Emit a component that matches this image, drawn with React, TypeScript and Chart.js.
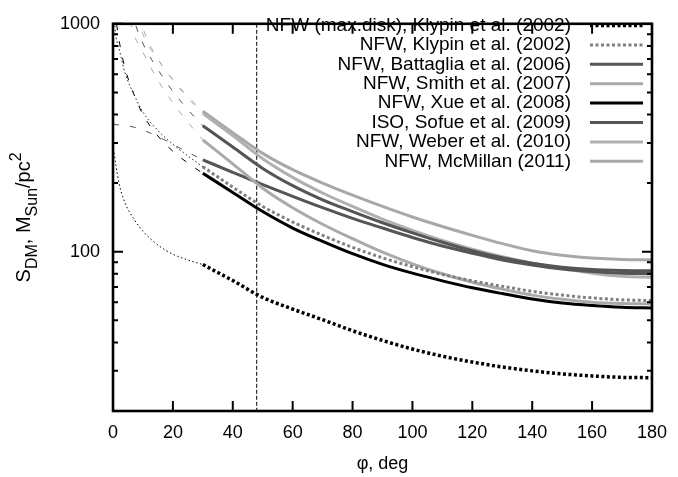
import React, { useEffect, useRef } from "react";
import { Chart, registerables } from "chart.js";
Chart.register(...registerables);

// angle grids
const phiThick = [30, 40, 50, 60, 70, 80, 90, 100, 110, 120, 130, 140, 150, 160, 170, 180];
const phiThin = [0, 1, 2, 4, 7, 10, 15, 20, 25, 30];

// thick parts (30..180 deg)
const maxDiskThick = [87.8, 74.7, 63, 56, 50.3, 45, 40.8, 37.4, 34.8, 32.8, 31.2, 30, 29.1, 28.5, 28.1, 28];
const klypinThick = [236, 192, 158, 135, 118, 104.5, 94, 86, 79.5, 74.5, 70.5, 67, 64.5, 62.7, 61.5, 61];
const battagliaThick = [357, 288, 232, 195, 169, 150, 134, 121, 110, 101, 94, 89, 85.5, 83.5, 82.7, 82.5];
const smithThick = [309, 243, 190, 156, 132, 114, 99.5, 88.5, 80, 73.5, 68.5, 64.5, 61.8, 60, 59.2, 59];
const xueThick = [221, 182, 150, 127, 111, 98, 88, 80.5, 74.5, 69.5, 65.5, 62, 59.5, 58, 57, 56.6];
const sofueThick = [253, 223, 197, 175, 156, 140, 127, 115.5, 106, 98.5, 92, 87.5, 84, 81.8, 80.5, 80];
const weberThick = [405, 323, 256, 212, 181, 158, 139, 124, 112, 102.5, 95, 89, 84.5, 80.5, 78, 77.3];
const mcmillanThick = [413, 333, 270, 229, 200, 177, 158, 142, 129, 118, 108.5, 101, 96.5, 93.8, 92.4, 92];

// thin parts (0..30 deg)
const maxDiskThin = [295, 238, 200, 164, 139, 123, 107, 97.5, 92, 87.8];
const klypinThin = [1200, 880, 780, 610, 490, 410, 340, 296, 263, 236];
const battagliaThin = [4500, 3200, 2400, 1650, 1050, 820, 630, 505, 420, 357];
const smithThin = [4000, 2800, 2100, 1300, 900, 750, 565, 450, 370, 309];
const xueThin = [1400, 1050, 850, 640, 490, 400, 322, 276, 245, 221];
const sofueThin = [362, 361, 360, 358, 352, 342, 320, 296, 273, 253];
const weberThin = [5000, 3600, 2800, 1900, 1250, 900, 700, 565, 472, 405];
const mcmillanThin = [6000, 4200, 3200, 2200, 1400, 960, 700, 570, 480, 413];

const seriesLabels = [
  "NFW (max.disk), Klypin et al. (2002)",
  "NFW, Klypin et al. (2002)",
  "NFW, Battaglia et al. (2006)",
  "NFW, Smith et al. (2007)",
  "NFW, Xue et al. (2008)",
  "ISO, Sofue et al. (2009)",
  "NFW, Weber et al. (2010)",
  "NFW, McMillan (2011)",
];

const xTickValues = [0, 20, 40, 60, 80, 100, 120, 140, 160, 180];
const yTickValues = [20, 30, 40, 50, 60, 70, 80, 90, 100, 200, 300, 400, 500, 600, 700, 800, 900, 1000];
const yLabelled = [100, 1000];
const markerPhi = 48;

const FONT = "'Liberation Sans', Arial, sans-serif";

type Style = { color: string; thinColor: string; dash: number[]; thinDash: number[]; width: number };
const styles: Style[] = [
  { color: "#000000", thinColor: "#000000", dash: [3, 2.5], thinDash: [1.5, 2.5], width: 3.5 },
  { color: "#808080", thinColor: "#222222", dash: [3, 2.5], thinDash: [1.5, 2.5], width: 3 },
  { color: "#555555", thinColor: "#555555", dash: [], thinDash: [6, 11], width: 3 },
  { color: "#aaaaaa", thinColor: "#aaaaaa", dash: [], thinDash: [6, 11], width: 3 },
  { color: "#000000", thinColor: "#000000", dash: [], thinDash: [6, 11], width: 3 },
  { color: "#555555", thinColor: "#555555", dash: [], thinDash: [6, 11], width: 3 },
  { color: "#b0b0b0", thinColor: "#b0b0b0", dash: [], thinDash: [6, 11], width: 3 },
  { color: "#a8a8a8", thinColor: "#a8a8a8", dash: [], thinDash: [6, 11], width: 3 },
];

const thickSeries = [maxDiskThick, klypinThick, battagliaThick, smithThick, xueThick, sofueThick, weberThick, mcmillanThick];
const thinSeries = [maxDiskThin, klypinThin, battagliaThin, smithThin, xueThin, sofueThin, weberThin, mcmillanThin];

const decorPlugin = {
  id: "decor",
  afterDraw(chart: any) {
    const ctx = chart.ctx as CanvasRenderingContext2D;
    const { left, right, top, bottom } = chart.chartArea;
    const xs = chart.scales.x;
    const ys = chart.scales.y;
    ctx.save();
    // ticks
    ctx.strokeStyle = "#000";
    ctx.lineWidth = 2;
    ctx.setLineDash([]);
    ctx.beginPath();
    for (const v of yTickValues) {
      const y = ys.getPixelForValue(v);
      const len = yLabelled.includes(v) ? 10 : 5;
      ctx.moveTo(left, y);
      ctx.lineTo(left + len, y);
      ctx.moveTo(right, y);
      ctx.lineTo(right - len, y);
    }
    for (const v of xTickValues) {
      const x = xs.getPixelForValue(v);
      ctx.moveTo(x, bottom);
      ctx.lineTo(x, bottom - 10);
      ctx.moveTo(x, top);
      ctx.lineTo(x, top + 10);
    }
    ctx.stroke();
    // border
    ctx.lineWidth = 2.6;
    ctx.strokeRect(left, top, right - left, bottom - top);

    // legend
    ctx.font = `19px ${FONT}`;
    ctx.fillStyle = "#000";
    ctx.textAlign = "right";
    ctx.textBaseline = "middle";
    seriesLabels.forEach((lab, i) => {
      const y = 25.5 + i * 19.4;
      ctx.fillText(lab, 571, y);
      const st = styles[i];
      ctx.beginPath();
      ctx.strokeStyle = st.color;
      ctx.lineWidth = st.width;
      ctx.setLineDash(st.dash);
      ctx.moveTo(590, y);
      ctx.lineTo(643, y);
      ctx.stroke();
    });
    ctx.setLineDash([]);

    // x title
    ctx.fillStyle = "#000";
    ctx.textAlign = "center";
    ctx.textBaseline = "middle";
    ctx.font = `18px ${FONT}`;
    ctx.fillText("\u03c6, deg", (left + right) / 2, 464);

    // y title with sub/superscripts
    const parts = [
      { t: "S", k: "n" },
      { t: "DM", k: "sub" },
      { t: ", M", k: "n" },
      { t: "Sun", k: "sub" },
      { t: "/pc", k: "n" },
      { t: "2", k: "sup" },
    ];
    const fontFor = (k: string) => (k === "n" ? `20px ${FONT}` : `16px ${FONT}`);
    let total = 0;
    for (const p of parts) {
      ctx.font = fontFor(p.k);
      total += ctx.measureText(p.t).width;
    }
    ctx.translate(30, (top + bottom) / 2);
    ctx.rotate(-Math.PI / 2);
    ctx.textAlign = "left";
    ctx.textBaseline = "alphabetic";
    let cx = -total / 2;
    for (const p of parts) {
      ctx.font = fontFor(p.k);
      const dy = p.k === "sub" ? 7 : p.k === "sup" ? -9 : 0;
      ctx.fillText(p.t, cx, dy);
      cx += ctx.measureText(p.t).width;
    }
    ctx.restore();
  },
};

export default function App() {
  const ref = useRef<HTMLCanvasElement>(null);
  useEffect(() => {
    if (!ref.current) return;
    const datasets: any[] = [];
    styles.forEach((st, i) => {
      datasets.push({
        label: seriesLabels[i] + " (extrapolated)",
        data: phiThin.map((p, j) => ({ x: p, y: thinSeries[i][j] })),
        borderColor: st.thinColor,
        borderWidth: 1,
        borderDash: st.thinDash,
        cubicInterpolationMode: "monotone",
        pointRadius: 0,
        fill: false,
      });
    });
    styles.forEach((st, i) => {
      datasets.push({
        label: seriesLabels[i],
        data: phiThick.map((p, j) => ({ x: p, y: thickSeries[i][j] })),
        borderColor: st.color,
        borderWidth: st.width,
        borderDash: st.dash,
        cubicInterpolationMode: "monotone",
        pointRadius: 0,
        fill: false,
      });
    });
    datasets.push({
      label: "marker",
      data: [
        { x: markerPhi, y: 1000 },
        { x: markerPhi, y: 20 },
      ],
      borderColor: "#000",
      borderWidth: 1,
      borderDash: [4, 2],
      pointRadius: 0,
      fill: false,
    });

    const chart = new Chart(ref.current, {
      type: "line",
      data: { datasets },
      options: {
        responsive: false,
        animation: false,
        layout: { padding: { top: 7, right: 20, left: 0, bottom: 0 } },
        plugins: { legend: { display: false }, tooltip: { enabled: false }, title: { display: false } },
        elements: { point: { radius: 0 } },
        scales: {
          x: {
            type: "linear",
            min: 0,
            max: 180,
            grid: { display: false, drawTicks: false },
            border: { display: false },
            afterBuildTicks: (s: any) => {
              s.ticks = xTickValues.map((v) => ({ value: v }));
            },
            ticks: {
              color: "#000",
              font: { family: FONT, size: 18 },
              padding: 11,
              maxRotation: 0,
              autoSkip: false,
              callback: (v: any) => String(v),
            },
            afterFit: (s: any) => {
              s.height = 66;
            },
          },
          y: {
            type: "logarithmic",
            min: 20,
            max: 1000,
            grid: { display: false, drawTicks: false },
            border: { display: false },
            afterBuildTicks: (s: any) => {
              s.ticks = yTickValues.map((v) => ({ value: v }));
            },
            ticks: {
              color: "#000",
              font: { family: FONT, size: 18 },
              padding: 13,
              autoSkip: false,
              callback: (v: any) => (yLabelled.includes(Number(v)) ? String(v) : ""),
            },
            afterFit: (s: any) => {
              s.width = 113;
            },
          },
        },
      },
      plugins: [decorPlugin],
    });
    return () => chart.destroy();
  }, []);
  return (
    <canvas
      ref={ref}
      width={678}
      height={477}
      style={{ position: "absolute", left: 0, top: 0, width: 678, height: 477, background: "#fff" }}
    />
  );
}
